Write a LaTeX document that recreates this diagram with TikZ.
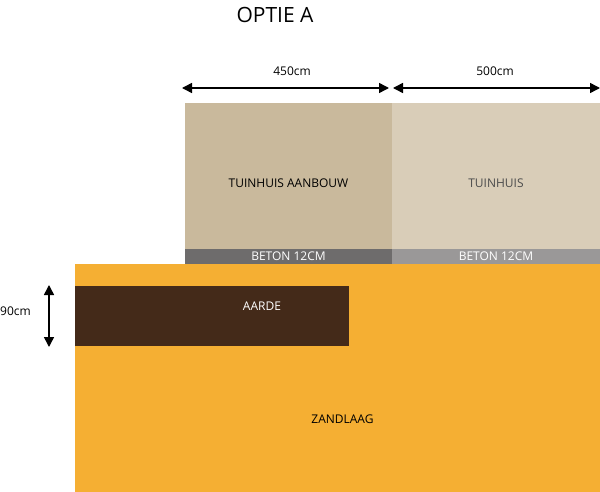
\documentclass[tikz,border=0pt]{standalone}
\usepackage{fontspec}
\setmainfont{Open Sans}
\usetikzlibrary{arrows.meta}

\definecolor{aanbouwkleur}{HTML}{C9B99C}
\definecolor{tuinhuiskleur}{HTML}{D9CDB8}
\definecolor{betondonker}{HTML}{6E6C6C}
\definecolor{betonlicht}{HTML}{9A9898}
\definecolor{zandkleur}{HTML}{F5AF33}
\definecolor{aardekleur}{HTML}{442A19}

\tikzset{
    vlak/.style={inner sep=0, outer sep=0, anchor=north west},
    maatpijl/.style={{Triangle[length=10pt,width=10pt]}-{Triangle[length=10pt,width=10pt]}, line width=1.5pt},
    maat/.style={font=\fontsize{12}{14}\selectfont}
}

\begin{document}
\begin{tikzpicture}[x=1pt,y=-1pt]
    \useasboundingbox (0,0) rectangle (600,492);
    \node[font=\fontsize{21}{24}\selectfont](titel) at (275,15){OPTIE A};
    % lagen
    \node[vlak,fill=zandkleur,minimum width=525pt,minimum height=228pt](zand) at (75,264){};
    \node[vlak,fill=aardekleur,minimum width=274pt,minimum height=60pt](aarde) at (75,286){};
    \node[vlak,fill=betondonker,minimum width=207pt,minimum height=15pt](beton1) at (185,249){};
    \node[vlak,fill=betonlicht,minimum width=208pt,minimum height=15pt](beton2) at (392,249){};
    \node[vlak,fill=aanbouwkleur,minimum width=207pt,minimum height=146pt](aanbouw) at (185,103){};
    \node[vlak,fill=tuinhuiskleur,minimum width=208pt,minimum height=146pt](tuinhuis) at (392,103){};
    % teksten
    \node[maat](t1) at ([yshift=-7pt]aanbouw.center){TUINHUIS AANBOUW};
    \node[maat,text=black!70](t2) at ([yshift=-7pt]tuinhuis.center){TUINHUIS};
    \node[maat,text=white](t3) at (beton1.center){BETON 12CM};
    \node[maat,text=white](t4) at (beton2.center){BETON 12CM};
    \node[maat,text=white](t5) at ([xshift=50pt,yshift=10pt]aarde.center){AARDE};
    \node[maat](t6) at ([xshift=5pt,yshift=-41pt]zand.center){ZANDLAAG};
    % maatvoering
    \coordinate (m1) at (182,88);
    \coordinate (m2) at (389,88);
    \coordinate (m3) at (393,88);
    \coordinate (m4) at (600,88);
    \draw[maatpijl] (m1) -- (m2);
    \draw[maatpijl] (m3) -- (m4);
    \node[maat](l450) at (292,71){450cm};
    \node[maat](l500) at (495,71){500cm};
    \coordinate (h1) at (49,285);
    \coordinate (h2) at (49,347);
    \draw[maatpijl] (h1) -- (h2);
    \node[maat,anchor=west,inner sep=0](l90) at (0,311){90cm};
\end{tikzpicture}
\end{document}
